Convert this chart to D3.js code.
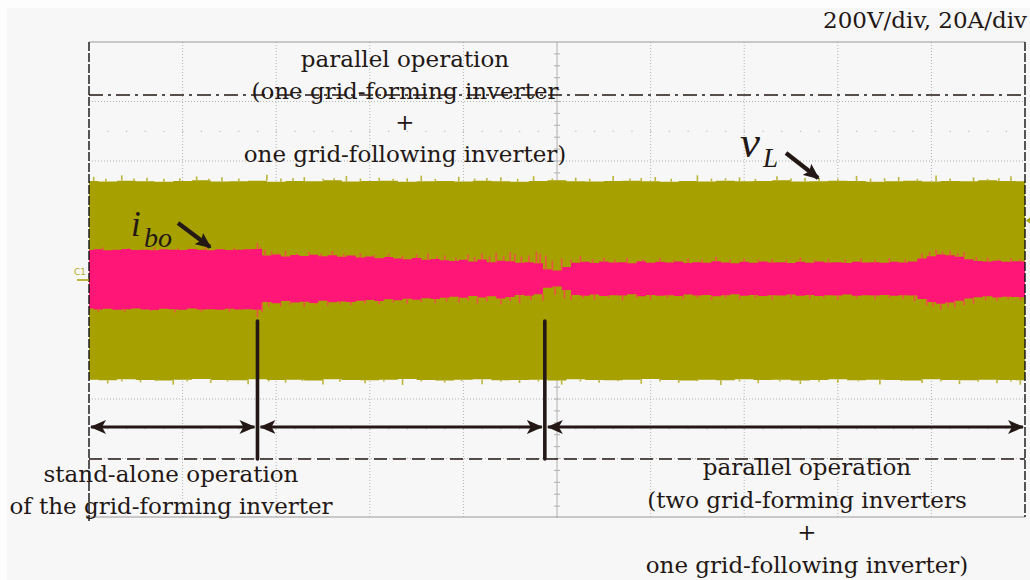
<!DOCTYPE html>
<html>
<head>
<meta charset="utf-8">
<script src="https://cdn.jsdelivr.net/npm/d3@7/dist/d3.min.js"></script>
<style>
  html, body { margin: 0; padding: 0; background: #fdfdfd; }
  svg { display: block; }
  .lbl { font-family: "DejaVu Serif", serif; font-size: 23px; fill: #231815; }
  .sym { font-family: "Liberation Serif", "Times New Roman", serif; font-style: italic; fill: #231815; }
</style>
</head>
<body>
<svg id="chart" width="1030" height="580"></svg>
<script>
// ---- scope settings ----
const scaleText = "200V/div, 20A/div";
const voltsPerDiv = 200;
const ampsPerDiv = 20;

// ---- time instants (divisions) where the configuration changes ----
const eventTimes = [1.8, 4.87];

// ---- load voltage v_L envelope, sampled every 0.2 div (V) ----
const vTop = [333,331,334,332,330,333,335,331,332,334,330,333,332,335,331,333,334,330,332,333,331,334,332,330,333,335,332,331,333,334,332,330,333,331,334,332,333,335,331,332,334,333,330,332,334,331,333,332,335,333,332];
const vBottom = [-335,-337,-334,-336,-338,-335,-333,-336,-337,-334,-336,-335,-338,-334,-336,-337,-335,-333,-336,-338,-335,-334,-337,-336,-335,-338,-334,-336,-337,-335,-333,-336,-338,-335,-337,-334,-336,-335,-338,-336,-334,-337,-335,-336,-338,-334,-336,-337,-335,-336,-337];
// isolated peaks above/below the v_L envelope: [time, V]
const vTopPeaks = [[0.05,347],[0.18,340],[0.35,352],[0.48,341],[0.62,344],[0.8,340],[0.97,342],[1.15,348],[1.28,340],[1.42,345],[1.6,341],[1.9,354],[2.05,341],[2.18,343],[2.3,346],[2.5,340],[2.62,342],[2.75,350],[2.9,341],[3.1,344],[3.25,340],[3.4,342],[3.55,351],[3.7,340],[3.95,347],[4.12,341],[4.25,343],[4.4,345],[4.58,340],[4.75,349],[4.95,341],[5.2,344],[5.35,340],[5.6,350],[5.78,341],[5.9,343],[6.05,346],[6.22,340],[6.5,352],[6.65,341],[6.8,342],[6.95,345],[7.12,340],[7.35,349],[7.5,341],[7.65,343],[7.8,344],[8.0,340],[8.2,350],[8.35,341],[8.5,342],[8.65,346],[8.85,340],[9.05,351],[9.2,341],[9.45,345],[9.6,340],[9.72,342],[9.85,349]];
const vBottomPeaks = [[0.2,-348],[0.35,-341],[0.55,-344],[0.72,-340],[0.9,-352],[1.05,-341],[1.3,-346],[1.48,-341],[1.7,-350],[1.92,-341],[2.1,-345],[2.28,-340],[2.5,-351],[2.68,-342],[2.95,-347],[3.15,-341],[3.35,-353],[3.55,-341],[3.8,-345],[3.98,-340],[4.2,-350],[4.4,-342],[4.6,-346],[4.8,-341],[5.05,-352],[5.25,-341],[5.45,-345],[5.65,-340],[5.9,-349],[6.1,-341],[6.3,-346],[6.5,-340],[6.75,-353],[6.95,-341],[7.15,-347],[7.38,-341],[7.6,-350],[7.8,-342],[8.0,-345],[8.22,-341],[8.45,-351],[8.68,-340],[8.9,-346],[9.1,-341],[9.3,-350],[9.5,-342],[9.7,-347],[9.85,-341],[9.95,-352]];

// ---- output current i_bo envelope, sampled every 0.1 div (A) ----
const iTop = [10.1,10.3,10.0,10.2,10.4,10.1,10.2,10.0,10.3,10.2,10.1,10.4,10.2,10.0,10.3,10.1,10.2,10.3,
  10.4,
  8.2,8.6,7.9,8.4,8.1,8.5,8.0,8.3,7.8,8.2,
  7.6,7.9,7.3,7.7,7.2,7.0,7.4,6.8,7.1,6.6,
  6.4,6.8,6.2,6.9,6.0,6.5,6.3,5.8,6.0,5.6,
  3.6,3.2,4.4,
  5.8,6.1,5.7,6.2,5.9,6.0,5.6,6.3,5.8,6.1,5.9,6.2,5.7,6.0,5.8,6.3,5.9,5.6,6.1,5.8,6.2,5.9,6.0,5.7,6.1,5.8,6.2,5.9,6.0,5.7,6.1,5.9,6.0,5.8,6.1,5.9,6.2,
  7.2,8.0,8.6,8.3,7.8,7.0,
  6.4,6.2,6.5,6.1,6.3,6.2];
const iBottom = [-9.6,-9.9,-9.7,-10.0,-9.8,-9.6,-9.9,-10.1,-9.7,-9.8,-10.0,-9.6,-9.9,-9.8,-10.0,-9.7,-9.9,-9.8,
  -10.0,
  -7.4,-7.8,-7.1,-7.6,-7.3,-7.7,-7.0,-7.5,-7.2,-7.4,
  -7.0,-6.7,-7.1,-6.5,-6.8,-6.3,-6.6,-6.1,-6.4,-6.0,
  -5.6,-6.0,-5.4,-5.9,-5.5,-6.2,-5.7,-5.0,-5.3,-4.8,
  -2.6,-2.2,-3.4,
  -5.0,-5.3,-4.9,-5.4,-5.1,-5.2,-4.8,-5.5,-5.0,-5.3,-5.1,-5.4,-4.9,-5.2,-5.0,-5.5,-5.1,-4.8,-5.3,-5.0,-5.4,-5.1,-5.2,-4.9,-5.3,-5.0,-5.4,-5.1,-5.2,-4.9,-5.3,-5.1,-5.2,-5.0,-5.3,-5.1,-5.2,
  -6.4,-7.4,-8.0,-7.6,-7.0,-6.2,
  -5.8,-5.5,-5.9,-5.6,-5.7,-5.8];
// isolated peaks above/below the i_bo envelope: [time, A]
const iTopPeaks = [[0.15,10.9],[0.42,10.8],[0.7,11.0],[0.95,10.8],[1.25,10.9],[1.55,10.8],
  [1.8,12.4],[1.83,11.0],[1.88,10.2],[1.95,9.6],[2.02,9.1],[2.1,9.8],[2.22,9.0],[2.35,9.4],[2.48,8.9],[2.6,9.7],[2.72,8.8],[2.9,9.0],[3.05,8.4],[3.2,8.8],[3.35,8.2],[3.5,8.6],[3.62,8.9],[3.72,8.0],[3.8,8.3],[3.92,7.6],[4.05,8.6],[4.12,7.8],[4.2,8.9],[4.28,7.9],[4.35,9.2],[4.43,8.0],[4.5,9.4],[4.55,8.7],[4.62,7.9],[4.7,8.2],[4.78,9.5],[4.82,8.8],[4.88,8.2],[4.95,6.4],[5.05,7.2],[5.15,6.8],[5.25,8.0],[5.38,7.0],[5.5,7.6],[5.62,6.9],[5.75,7.5],[5.92,7.0],[6.1,7.4],[6.25,6.8],[6.4,7.2],[6.55,6.9],[6.7,7.8],[6.85,6.8],[7.0,7.2],[7.15,6.9],[7.3,7.0],[7.45,6.8],[7.6,7.6],[7.75,6.9],[7.9,7.1],[8.08,6.9],[8.25,7.3],[8.4,6.8],[8.55,7.4],[8.72,7.0],[8.9,9.0],[8.98,9.4],[9.05,10.2],[9.12,9.5],[9.2,9.8],[9.28,9.1],[9.35,9.4],[9.48,7.8],[9.6,7.6],[9.72,7.1],[9.85,7.4],[9.95,7.0]];
const iBottomPeaks = [[0.1,-10.6],[0.38,-10.7],[0.66,-10.5],[0.92,-10.8],[1.2,-10.6],[1.5,-10.7],
  [1.8,-12.6],[1.85,-10.8],[1.92,-9.0],[2.05,-8.8],[2.15,-8.3],[2.3,-9.0],[2.42,-8.2],[2.55,-8.6],[2.68,-8.1],[2.8,-8.4],[2.95,-7.9],[3.1,-8.2],[3.25,-7.6],[3.4,-8.0],[3.55,-7.4],[3.7,-7.8],[3.82,-7.2],[3.95,-7.6],[4.05,-6.9],[4.15,-8.0],[4.25,-7.2],[4.4,-8.2],[4.5,-7.0],[4.6,-7.8],[4.72,-6.8],[4.85,-7.0],[4.98,-5.0],[5.08,-6.2],[5.15,-6.8],[5.28,-6.1],[5.4,-6.6],[5.55,-6.0],[5.7,-6.9],[5.85,-6.1],[6.0,-6.5],[6.18,-6.0],[6.35,-6.4],[6.5,-6.0],[6.65,-6.8],[6.8,-6.1],[6.95,-6.5],[7.12,-6.0],[7.3,-6.6],[7.5,-6.1],[7.7,-6.3],[7.85,-6.0],[8.0,-6.7],[8.2,-6.1],[8.4,-6.5],[8.55,-6.0],[8.7,-6.4],[8.82,-7.2],[8.95,-8.6],[9.02,-9.0],[9.1,-10.0],[9.18,-9.2],[9.25,-9.2],[9.35,-8.5],[9.45,-8.0],[9.58,-6.9],[9.7,-7.0],[9.82,-6.5],[9.95,-6.8]];

// ---- annotation texts ----
const topNote = ["parallel operation", "(one grid-forming inverter", "+", "one grid-following inverter)"];
const leftNote = ["stand-alone operation", "of the grid-forming inverter"];
const rightNote = ["parallel operation", "(two grid-forming inverters", "+", "one grid-following inverter)"];

// ---- drawing ----
const svg = d3.select("#chart");
const C = { green: "#a6a100", greenPeak: "#bcb43c", pink: "#ff1676", pinkPeak: "#ee5444", ink: "#231815", grid: "#b3b3b3" };

const x = d3.scaleLinear().domain([0, 10]).range([89, 1025]);
const yV = d3.scaleLinear().domain([-4 * voltsPerDiv, 4 * voltsPerDiv]).range([518, 42]);
const yI = d3.scaleLinear().domain([-4 * ampsPerDiv, 4 * ampsPerDiv]).range([518, 42]);

svg.append("rect").attr("x", 7).attr("y", 8).attr("width", 1023).attr("height", 572).attr("fill", "#f7f7f7");

// graticule
const grid = svg.append("g");
d3.range(1, 10).filter(d => d !== 5).forEach(d => {
  grid.append("line").attr("x1", x(d)).attr("x2", x(d)).attr("y1", yV(800)).attr("y2", yV(-800))
    .attr("stroke", C.grid).attr("stroke-dasharray", "1,2");
});
[-600, -400, -200, 200, 400, 600].forEach(v => {
  grid.append("line").attr("x1", x(0)).attr("x2", x(10)).attr("y1", yV(v)).attr("y2", yV(v))
    .attr("stroke", C.grid).attr("stroke-dasharray", "1,2");
});
[500, -500].forEach(v => {
  grid.selectAll(null).data(d3.range(0.2, 10, 0.2)).join("rect")
    .attr("x", d => x(d) - 0.5).attr("y", yV(v) - 0.5).attr("width", 1.2).attr("height", 1.2).attr("fill", "#bdbdbd");
});
// centre axes with minor ticks
grid.append("line").attr("x1", x(5)).attr("x2", x(5)).attr("y1", yV(800)).attr("y2", yV(-800)).attr("stroke", "#b0b0b0");
grid.selectAll(null).data(d3.range(-3.8, 4, 0.2)).join("line")
  .attr("x1", x(5) - 3).attr("x2", x(5) + 3)
  .attr("y1", d => yV(d * voltsPerDiv)).attr("y2", d => yV(d * voltsPerDiv)).attr("stroke", "#b0b0b0");
grid.append("line").attr("x1", x(0)).attr("x2", x(10)).attr("y1", yV(0)).attr("y2", yV(0)).attr("stroke", "#b0b0b0");

// frame
svg.append("line").attr("x1", x(0)).attr("x2", x(10)).attr("y1", yV(800)).attr("y2", yV(800)).attr("stroke", "#9a9a9a");
svg.append("line").attr("x1", x(0)).attr("x2", x(10)).attr("y1", yV(-800) - 1).attr("y2", yV(-800) - 1).attr("stroke", "#9a9a9a");

// v_L band
const tV = i => i * 0.2;
const tI = i => i * 0.1;
svg.append("path")
  .attr("d", d3.area().curve(d3.curveStep).x((d, i) => x(tV(i))).y0((d, i) => yV(vBottom[i])).y1(d => yV(d))(vTop))
  .attr("fill", C.green);
const peakLines = (g, data, base, yScale, color) => {
  g.selectAll(null).data(data).join("line")
    .attr("x1", d => x(d[0])).attr("x2", d => x(d[0]))
    .attr("y1", d => yScale(base(d[0]))).attr("y2", d => yScale(d[1]))
    .attr("stroke", color).attr("stroke-width", 1.6);
};
const near = (arr, step) => t => arr[Math.min(arr.length - 1, Math.round(t / step))];
peakLines(svg.append("g"), vTopPeaks, near(vTop, 0.2), yV, C.greenPeak);
peakLines(svg.append("g"), vBottomPeaks, near(vBottom, 0.2), yV, C.greenPeak);

// i_bo band
svg.append("path")
  .attr("d", d3.area().curve(d3.curveStep).x((d, i) => x(tI(i))).y0((d, i) => yI(iBottom[i])).y1(d => yI(d))(iTop))
  .attr("fill", C.pink);
peakLines(svg.append("g"), iTopPeaks, near(iTop, 0.1), yI, C.pinkPeak);
peakLines(svg.append("g"), iBottomPeaks, near(iBottom, 0.1), yI, C.pinkPeak);

// side borders (dashed)
[0, 10].forEach(d => {
  svg.append("line").attr("x1", x(d)).attr("x2", x(d)).attr("y1", 42).attr("y2", d === 0 ? 521 : 517)
    .attr("stroke", "#111").attr("stroke-width", 1.4).attr("stroke-dasharray", "9,2");
});

// reference markers
svg.append("text").attr("x", 74).attr("y", 275).attr("font-family", "DejaVu Sans, sans-serif").attr("font-size", 9)
  .attr("fill", "#b5ad2a").text("C1");
svg.append("line").attr("x1", 77).attr("x2", 89).attr("y1", yV(0)).attr("y2", yV(0)).attr("stroke", C.green).attr("stroke-width", 1.5);
svg.append("path").attr("d", `M1026,${yV(200)}l4,-3v6z`).attr("fill", C.green);

// dash-dot and dashed reference lines
svg.append("line").attr("x1", x(0)).attr("x2", x(10)).attr("y1", 95).attr("y2", 95)
  .attr("stroke", C.ink).attr("stroke-width", 1.5).attr("stroke-dasharray", "14,5,3,5");
svg.append("line").attr("x1", x(0)).attr("x2", x(10)).attr("y1", 459).attr("y2", 459)
  .attr("stroke", C.ink).attr("stroke-width", 1.5).attr("stroke-dasharray", "13,6");

// switching instants
svg.selectAll(null).data(eventTimes).join("line")
  .attr("x1", d => x(d)).attr("x2", d => x(d)).attr("y1", 321).attr("y2", 459)
  .attr("stroke", C.ink).attr("stroke-width", 3.6).attr("stroke-linecap", "round");

// interval arrows
const defs = svg.append("defs");
defs.append("marker").attr("id", "ah").attr("viewBox", "0 0 16 14").attr("refX", 15).attr("refY", 7)
  .attr("markerWidth", 16).attr("markerHeight", 14).attr("markerUnits", "userSpaceOnUse").attr("orient", "auto-start-reverse")
  .append("path").attr("d", "M0,0 L16,7 L0,14 L4,7 Z").attr("fill", C.ink);
defs.append("marker").attr("id", "ah2").attr("viewBox", "0 0 16 14").attr("refX", 14).attr("refY", 7)
  .attr("markerWidth", 16).attr("markerHeight", 14).attr("markerUnits", "userSpaceOnUse").attr("orient", "auto")
  .append("path").attr("d", "M0,0 L16,7 L0,14 L3,7 Z").attr("fill", C.ink);
const bounds = [0, ...eventTimes, 10];
const spans = d3.pairs(bounds);
svg.selectAll(null).data(spans).join("line")
  .attr("x1", (d, i) => x(d[0]) + (i === 0 ? 2 : 3)).attr("x2", (d, i) => x(d[1]) - (i === spans.length - 1 ? 2 : 3))
  .attr("y1", 427).attr("y2", 427)
  .attr("stroke", C.ink).attr("stroke-width", 3)
  .attr("marker-start", "url(#ah)").attr("marker-end", "url(#ah)");

// annotation blocks
const block = (lines, cx, y0, dy) => {
  svg.append("text").attr("class", "lbl").attr("text-anchor", "middle")
    .selectAll("tspan").data(lines).join("tspan")
    .attr("x", cx).attr("y", (d, i) => y0 + i * dy).text(d => d);
};
block(topNote, 405, 67, 31.5);
block(leftNote, 171, 482, 32);
block(rightNote, 807, 475, 32.7);
svg.append("text").attr("class", "lbl").attr("text-anchor", "end").attr("x", 1027).attr("y", 28)
  .attr("font-size", 24).text(scaleText);

// signal labels
const vl = svg.append("text").attr("class", "sym");
vl.append("tspan").attr("x", 740).attr("y", 157).attr("font-size", 45).text("v");
vl.append("tspan").attr("x", 763).attr("y", 167).attr("font-size", 27).text("L");
const ib = svg.append("text").attr("class", "sym");
ib.append("tspan").attr("x", 131).attr("y", 236).attr("font-size", 35).text("i");
ib.append("tspan").attr("x", 144).attr("y", 247).attr("font-size", 28).text("bo");
[[786, 153, 818, 178], [178, 223, 210, 247]].forEach(a => {
  svg.append("line").attr("x1", a[0]).attr("y1", a[1]).attr("x2", a[2]).attr("y2", a[3])
    .attr("stroke", C.ink).attr("stroke-width", 4.2).attr("marker-end", "url(#ah2)");
});
</script>
</body>
</html>
